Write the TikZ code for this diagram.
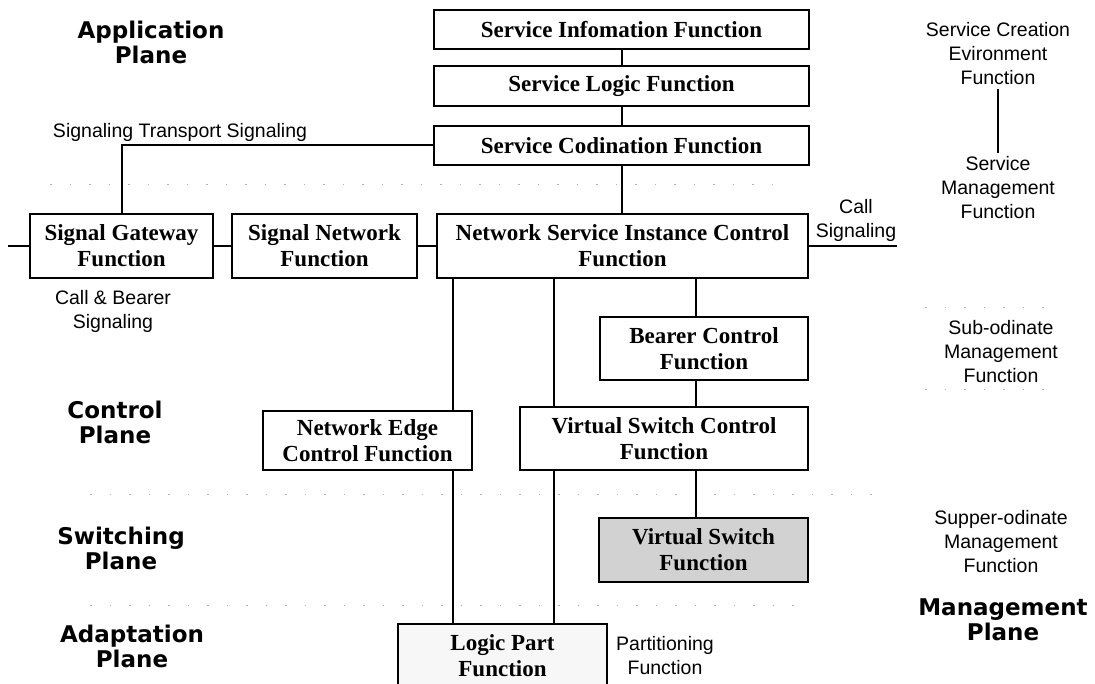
\documentclass[tikz,border=0pt]{standalone}
\usepackage{fontspec}
\setmainfont{Liberation Sans}
\newfontfamily\boxfont{Liberation Serif}
\newfontfamily\planefont{DejaVu Sans}

\begin{document}
\begin{tikzpicture}[
    x=1pt, y=-1pt,
    func box/.style={draw, line width=1.6pt, fill=white, align=center,
      inner sep=0pt, font=\boxfont\bfseries\fontsize{23}{26}\selectfont},
    plane label/.style={align=center,
      font=\planefont\bfseries\fontsize{23}{25}\selectfont},
    side label/.style={align=center, font=\fontsize{19.5}{24}\selectfont},
    link/.style={line width=2pt},
    plane sep/.style={gray!60, line width=1pt, dash pattern=on 1.5pt off 18pt},
  ]
  \useasboundingbox (0,0) rectangle (1095,684);
  \clip (0,0) rectangle (1095,684);

  % plane separators
  \draw [plane sep] (50,185) -- (780,185);
  \draw [plane sep] (925,308) -- (1050,308);
  \draw [plane sep] (925,390) -- (1050,390);
  \draw [plane sep] (90,494) -- (880,494);
  \draw [plane sep] (90,605) -- (800,605);

  % function boxes
  \node [func box, minimum width=375pt, minimum height=39pt]
    (info) at (621.5,29.5) {Service Infomation Function};
  \node [func box, minimum width=375pt, minimum height=40pt]
    (logic) at (621.5,86) {Service Logic Function};
  \node [func box, minimum width=375pt, minimum height=39pt]
    (coord) at (621.5,145.5) {Service Codination Function};

  \node [func box, minimum width=183pt, minimum height=64pt]
    (gateway) at (121.5,246) {Signal Gateway\\Function};
  \node [func box, minimum width=185pt, minimum height=64pt]
    (signet) at (324.5,246) {Signal Network\\Function};
  \node [func box, minimum width=371pt, minimum height=64pt]
    (nsic) at (622.5,246) {Network Service Instance Control\\Function};

  \node [func box, minimum width=208pt, minimum height=63pt]
    (bearer) at (704,348.5) {Bearer Control\\Function};
  \node [func box, minimum width=209pt, minimum height=59pt]
    (edge) at (367.5,440.5) {Network Edge\\Control Function};
  \node [func box, minimum width=288pt, minimum height=63pt]
    (vsc) at (664,438.5) {Virtual Switch Control\\Function};
  \node [func box, fill=gray!35, minimum width=209pt, minimum height=64pt]
    (vswitch) at (703.5,550) {Virtual Switch\\Function};
  \node [func box, fill=gray!6, minimum width=209pt, minimum height=64pt]
    (part) at (502.5,656) {Logic Part\\Function};

  % connectors
  \draw [link] (info.south) -- (logic.north);
  \draw [link] (logic.south) -- (coord.north);
  \draw [link] (coord.south) -- (coord.south |- nsic.north);
  \draw [link] (coord.west) -| (gateway.north);

  \coordinate (left end) at (8,246);
  \coordinate (call end) at (897,246);
  \draw [link] (left end) -- (gateway.west);
  \draw [link] (gateway.east) -- (signet.west);
  \draw [link] (signet.east) -- (nsic.west);
  \draw [link] (nsic.east) -- (call end);

  \path (nsic.south west)
    ++(17,0) coordinate (edge tap)
    ++(101,0) coordinate (switch tap)
    ++(142,0) coordinate (bearer tap)
  ;
  \draw [link] (edge tap) -- (edge tap |- edge.north);
  \draw [link] (edge tap |- edge.south) -- (edge tap |- part.north);
  \draw [link] (switch tap) -- (switch tap |- vsc.north);
  \draw [link] (switch tap |- vsc.south) -- (switch tap |- part.north);
  \draw [link] (bearer tap) -- (bearer tap |- bearer.north);
  \draw [link] (bearer tap |- bearer.south) -- (bearer tap |- vsc.north);
  \draw [link] (bearer tap |- vsc.south) -- (bearer tap |- vswitch.north);

  % plane names
  \node [plane label] (app plane) at (151,42) {Application\\Plane};
  \node [plane label] (ctrl plane) at (115,422) {Control\\Plane};
  \node [plane label] (sw plane) at (121,548) {Switching\\Plane};
  \node [plane label] (adapt plane) at (132,646) {Adaptation\\Plane};
  \node [plane label] (mgmt plane) at (1003,620) {Management\\Plane};

  % signaling and management labels
  \node [side label] (transport label) at (180,132)
    {Signaling Transport Signaling};
  \node [side label] (bearer sig label) at (113,311)
    {Call \& Bearer\\Signaling};
  \node [side label] (call label) at (856,220) {Call\\Signaling};
  \node [side label] (partition label) at (665,656)
    {Partitioning\\Function};

  \node [side label] (creation) at (998,54)
    {Service Creation\\Evironment\\Function};
  \node [side label] (service mgmt) at (998,188)
    {Service\\Management\\Function};
  \draw [link] (creation.south) -- (service mgmt.north);
  \node [side label] (sub mgmt) at (1001,352)
    {Sub-odinate\\Management\\Function};
  \node [side label] (super mgmt) at (1001,542)
    {Supper-odinate\\Management\\Function};
\end{tikzpicture}
\end{document}
